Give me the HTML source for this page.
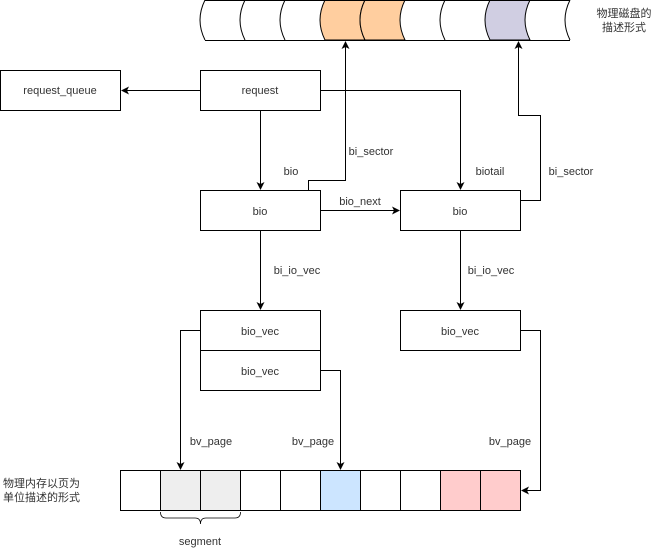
<!DOCTYPE html><html><head><meta charset="utf-8"><style>body{margin:0;background:#fff}svg{display:block}text{font-family:"Liberation Sans","Noto Sans CJK SC",sans-serif;font-size:11px;fill:#333}</style></head><body>
<svg width="661" height="551" xmlns="http://www.w3.org/2000/svg">
<defs><marker id="a" markerWidth="8" markerHeight="8" refX="7" refY="4" orient="auto" markerUnits="userSpaceOnUse"><path d="M0,0 L8,4 L0,8 L2,4z" fill="#000"/></marker></defs>
<g stroke="#000" stroke-width="1">
<path d="M325,0 L365,0 Q355,20 365,40 L325,40 Q315,20 325,0z" fill="#FFCE9F"/>
<path d="M365,0 L405,0 Q395,20 405,40 L365,40 Q355,20 365,0z" fill="#FFCE9F"/>
<path d="M490,0 L530,0 Q520,20 530,40 L490,40 Q480,20 490,0z" fill="#D0CEE2"/>
<line x1="205" y1="0.5" x2="570" y2="0.5"/><line x1="205" y1="40.5" x2="570" y2="40.5"/>
<g fill="none">
<path d="M205,0 Q195,20 205,40"/><path d="M245,0 Q235,20 245,40"/><path d="M285,0 Q275,20 285,40"/><path d="M445,0 Q435,20 445,40"/><path d="M570,0 Q560,20 570,40"/>
</g>
<g fill="#fff">
<rect x="0.5" y="70.5" width="120" height="40"/><rect x="200.5" y="70.5" width="120" height="40"/>
<rect x="200.5" y="190.5" width="120" height="40"/><rect x="400.5" y="190.5" width="120" height="40"/>
<rect x="200.5" y="310.5" width="120" height="40"/><rect x="200.5" y="350.5" width="120" height="40"/>
<rect x="400.5" y="310.5" width="120" height="40"/>
<rect x="120.5" y="470.5" width="40" height="40"/>
<rect x="160.5" y="470.5" width="40" height="40" fill="#EEEEEE"/><rect x="200.5" y="470.5" width="40" height="40" fill="#EEEEEE"/>
<rect x="240.5" y="470.5" width="40" height="40"/><rect x="280.5" y="470.5" width="40" height="40"/>
<rect x="320.5" y="470.5" width="40" height="40" fill="#CCE5FF"/>
<rect x="360.5" y="470.5" width="40" height="40"/><rect x="400.5" y="470.5" width="40" height="40"/>
<rect x="440.5" y="470.5" width="40" height="40" fill="#FFCCCC"/><rect x="480.5" y="470.5" width="40" height="40" fill="#FFCCCC"/>
</g>
<g fill="none" marker-end="url(#a)">
<path d="M200,90.5 L122,90.5"/>
<path d="M260.5,110 L260.5,189"/>
<path d="M308.5,190 L308.5,180.5 L345.5,180.5 L345.5,42"/>
<path d="M320,90.5 L460.5,90.5 L460.5,189"/>
<path d="M320,210.5 L399,210.5"/>
<path d="M520,200.5 L540.5,200.5 L540.5,115.5 L518.5,115.5 L518.5,42"/>
<path d="M260.5,230 L260.5,309"/>
<path d="M460.5,230 L460.5,309"/>
<path d="M200,330.5 L180.5,330.5 L180.5,469"/>
<path d="M320,370.5 L340.5,370.5 L340.5,469"/>
<path d="M520,330.5 L540.5,330.5 L540.5,490.5 L522,490.5"/>
</g>
<path d="M160.5,512 Q160.5,518 166,518 L195,518 Q200.5,518 200.5,524 Q200.5,518 206,518 L235,518 Q240.5,518 240.5,512" fill="none" stroke-width="0.8"/>
</g>
<g text-anchor="middle">
<text x="60" y="94">request_queue</text><text x="260" y="94">request</text>
<text x="260" y="215">bio</text><text x="460" y="215">bio</text>
<text x="260" y="335">bio_vec</text><text x="260" y="375">bio_vec</text><text x="460" y="335">bio_vec</text>
<text x="291" y="175">bio</text><text x="371" y="155">bi_sector</text><text x="490" y="175">biotail</text>
<text x="571" y="175">bi_sector</text><text x="360" y="205">bio_next</text>
<text x="297" y="274">bi_io_vec</text><text x="491" y="274">bi_io_vec</text>
<text x="211" y="445">bv_page</text><text x="313" y="445">bv_page</text><text x="510" y="445">bv_page</text>
<text x="200" y="545">segment</text>
<text x="624" y="17">物理磁盘的</text><text x="624" y="31">描述形式</text>
</g>
<text x="3" y="487">物理内存以页为</text><text x="3" y="501">单位描述的形式</text>
</svg></body></html>
